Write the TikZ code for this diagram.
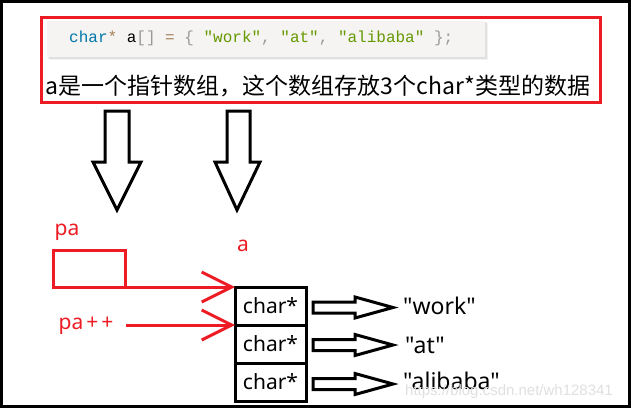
\documentclass[tikz,border=0pt]{standalone}
\usepackage{fontspec}
\newfontfamily\labfont{Noto Sans}
\newfontfamily\cjkfont{Noto Sans CJK SC}
\newfontfamily\codefont{Liberation Mono}
\newfontfamily\wmfont{Liberation Sans}
\usetikzlibrary{arrows.meta}
\definecolor{myred}{HTML}{ED1C24}
\definecolor{kw}{HTML}{0077AA}
\definecolor{op}{HTML}{A67F59}
\definecolor{punc}{HTML}{999999}
\definecolor{str}{HTML}{669900}
\definecolor{codebg}{HTML}{F5F4F2}
\tikzset{
  lbl/.style={inner sep=0pt, font=\labfont\fontsize{21}{26}\selectfont},
  strlbl/.style={inner sep=0pt, anchor=west, font=\labfont\fontsize{23}{26}\selectfont},
  redlbl/.style={lbl, text=myred},
  cell/.style={draw=black, line width=3pt, outer sep=0pt, minimum width=71pt, minimum height=38pt, inner sep=0pt, font=\labfont\fontsize{21}{26}\selectfont},
  hollow/.style={draw=black, line width=3pt, fill=white, line join=miter},
  redarrow/.style={draw=myred, line width=3pt, -{Straight Barb[length=30pt, width=30pt, line width=3pt]}},
}
\begin{document}
\begin{tikzpicture}[x=1pt, y=-1pt]
\useasboundingbox (0,0) rectangle (631,410);
\fill[white] (0,0) rectangle (631,410);
% outer border
\draw[line width=3pt] (1.5,1.5) rectangle (629.5,406.5);
% red box
\draw[myred, line width=3pt] (41.5,17.5) rectangle (600.5,102.5);
% code box with shadow
\fill[black, opacity=0.05] (49,23) rectangle (488,60);
\fill[black, opacity=0.07] (48,22) rectangle (486.5,58.5);
\fill[codebg] (47,21) rectangle (485,57);
\node[anchor=west, inner sep=0pt, font=\codefont\fontsize{16}{18}\selectfont] (code) at (69,38)
  {\textcolor{kw}{char}\textcolor{op}{*} a\textcolor{punc}{[]} \textcolor{op}{=} \textcolor{punc}{\{} \textcolor{str}{"work"}\textcolor{punc}{,} \textcolor{str}{"at"}\textcolor{punc}{,} \textcolor{str}{"alibaba"} \textcolor{punc}{\};}};
\node[inner sep=0pt, font=\cjkfont\fontsize{23}{26}\selectfont] (desc) at (318,86) {a是一个指针数组，这个数组存放3个char*类型的数据};
% down arrows
\draw[hollow] (105,111) -- (129,111) -- (129,162) -- (141,162) -- (117,210) -- (93,162) -- (105,162) -- cycle;
\draw[hollow] (227,111) -- (250,111) -- (250,162) -- (260,162) -- (237,210) -- (215,162) -- (227,162) -- cycle;
% labels
\node[redlbl] (palbl) at (67,232) {pa};
\node[redlbl] (albl) at (243,246) {a};
\node[draw=myred, line width=3pt, outer sep=0pt, minimum width=72pt, minimum height=37pt, inner sep=0pt] (pabox) at (89,268.5) {};
\node[redlbl] (papp) at (86,326) {pa{\kern3pt}+{\kern3pt}+};
% cells
\node[cell] (c1) at (270.5,306) {char*};
\node[cell] (c2) at (270.5,344) {char*};
\node[cell] (c3) at (270.5,382) {char*};
% red arrows
\draw[redarrow] (pabox.south east) -- (c1.north west);
\coordinate (ppstart) at (126,325);
\draw[redarrow] (ppstart) -- (c1.south west);
% right hollow arrows
\foreach \yy/\nm in {307.5/1, 345/2, 384/3}{
  \draw[hollow] (313,\yy-5.5) -- (355,\yy-5.5) -- (355,\yy-10.5) -- (393,\yy) -- (355,\yy+10.5) -- (355,\yy+5.5) -- (313,\yy+5.5) -- cycle;
}
% strings
\node[strlbl] (s1) at (403,306) {"work"};
\node[strlbl] (s2) at (405,345) {"at"};
\node[strlbl] (s3) at (403,381) {"alibaba"};
% watermark
\node[anchor=west, inner sep=0pt, text=black!12, font=\wmfont\fontsize{15}{17}\selectfont] (wm) at (405,392) {https://blog.csdn.net/wh128341};
\end{tikzpicture}
\end{document}
